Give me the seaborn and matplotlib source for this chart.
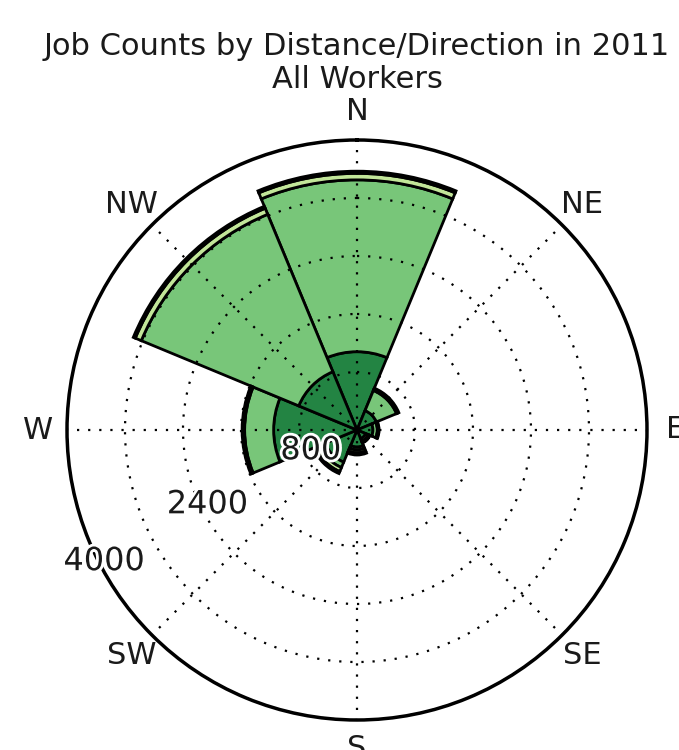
import numpy as np
import pandas as pd
import matplotlib
matplotlib.use("Agg")
import matplotlib.pyplot as plt
import matplotlib.patheffects as pe
import matplotlib.transforms as mtrans
import seaborn as sns

directions = ["N", "NE", "E", "SE", "S", "SW", "W", "NW"]
categories = ["Less than 10 miles", "10 to 24 miles", "25 to 50 miles", "Greater than 50 miles"]
less_10 = [1080, 290, 220, 130, 235, 480, 1150, 870]
from_10_24 = [2370, 300, 60, 40, 40, 80, 400, 2350]
from_25_50 = [90, 20, 15, 15, 40, 60, 20, 90]
over_50 = [30, 15, 10, 10, 30, 30, 15, 30]
r_ticks = [800, 1600, 2400, 3200, 4000]
r_ticklabels = ["800", "", "2400", "", "4000"]
title = "Job Counts by Distance/Direction in 2011\nAll Workers"

sns.set_style("white")
plt.rcParams["font.family"] = ["DejaVu Sans"]
colors = sns.color_palette(["#238443", "#78c679", "#c2e699", "#ffffcc"])

df = pd.DataFrame({"direction": directions, categories[0]: less_10, categories[1]: from_10_24,
                   categories[2]: from_25_50, categories[3]: over_50})

fig = plt.figure(figsize=(6.79, 7.5), dpi=100)
ax = fig.add_axes([67 / 679, 30 / 750, 580 / 679, 580 / 750], projection="polar")
ax.set_theta_zero_location("N")
ax.set_theta_direction(-1)

theta = np.deg2rad(np.arange(len(directions)) * 45.0)
width = 2 * np.pi / len(directions)
bottom = np.zeros(len(directions))
for cat, col in zip(categories, colors):
    vals = df[cat].to_numpy(dtype=float)
    ax.bar(theta, vals, width=width, bottom=bottom, color=col, edgecolor="black",
           linewidth=2, align="center", zorder=2)
    bottom += vals

ax.set_ylim(0, 4000)
ax.set_yticks(r_ticks)
ax.set_yticklabels([""] * len(r_ticks))
ax.set_xticks(theta)
ax.set_xticklabels(directions, fontsize=22, color="#1a1a1a")
ax.tick_params(axis="x", pad=10)
ax.grid(True, color="black", linestyle=(0, (1, 4)), linewidth=1.6, zorder=3)
ax.set_axisbelow(False)
ax.spines["polar"].set_linewidth(2.5)
ax.spines["polar"].set_color("black")

# radial labels (every other tick), placed along the 243 degree ray
label_angle = np.deg2rad(243)
offsets = {"800": (4, 4), "2400": (4, 3), "4000": (4, 0)}
for val, lab in zip(r_ticks, r_ticklabels):
    if not lab:
        continue
    dx, dy = offsets[lab]
    tr = mtrans.offset_copy(ax.transData, fig=fig, x=dx, y=dy, units="points")
    ax.text(label_angle, val, lab, transform=tr, ha="center", va="center", fontsize=23,
            color="#1a1a1a", zorder=6,
            path_effects=[pe.withStroke(linewidth=4, foreground="white")])

fig.text(357 / 679, 1 - 63 / 750, title, ha="center", va="center", fontsize=22,
         linespacing=1.15, color="#1a1a1a")

fig.savefig("out.png", dpi=100)
